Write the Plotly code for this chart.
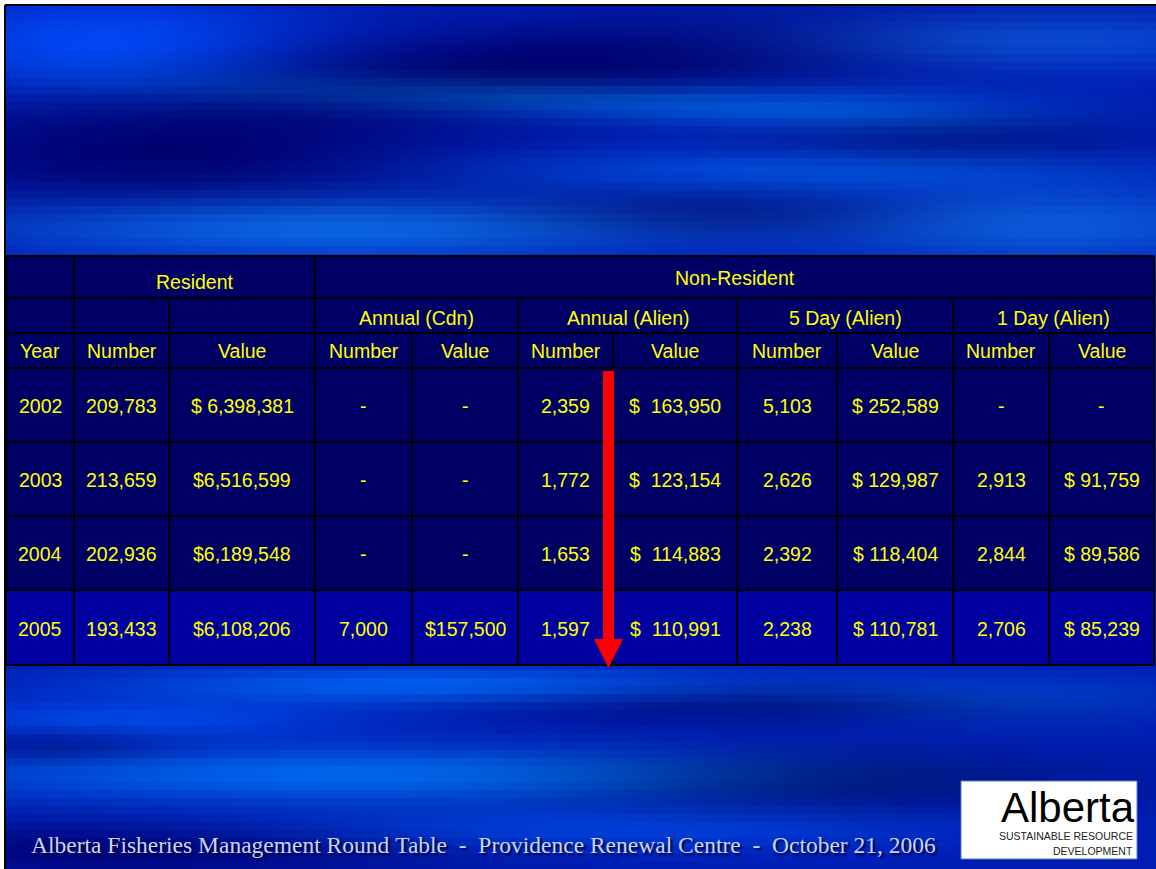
import base64, struct, zlib
import numpy as np
import plotly.graph_objects as go

# ---------------- data ----------------
years = ["2002", "2003", "2004", "2005"]
res_number = ["209,783", "213,659", "202,936", "193,433"]
res_value = ["$ 6,398,381", "$6,516,599", "$6,189,548", "$6,108,206"]
cdn_number = ["-", "-", "-", "7,000"]
cdn_value = ["-", "-", "-", "$157,500"]
alien_number = ["2,359", "1,772", "1,653", "1,597"]
alien_value = ["$  163,950", "$  123,154", "$  114,883", "$  110,991"]
day5_number = ["5,103", "2,626", "2,392", "2,238"]
day5_value = ["$ 252,589", "$ 129,987", "$ 118,404", "$ 110,781"]
day1_number = ["-", "2,913", "2,844", "2,706"]
day1_value = ["-", "$ 91,759", "$ 89,586", "$ 85,239"]

group_labels = ["Resident", "Non-Resident"]
sub_labels = ["Annual (Cdn)", "Annual (Alien)", "5 Day (Alien)", "1 Day (Alien)"]
col_labels = ["Year", "Number", "Value", "Number", "Value", "Number", "Value",
              "Number", "Value", "Number", "Value"]
footer = "Alberta Fisheries Management Round Table  -  Providence Renewal Centre  -  October 21, 2006"

columns = [years, res_number, res_value, cdn_number, cdn_value, alien_number,
           alien_value, day5_number, day5_value, day1_number, day1_value]

# ---------------- layout geometry (pixels) ----------------
W, H = 1156, 869
col_x = [6, 74, 169, 315, 412, 518, 613, 737, 837, 953, 1049, 1154]
row_y = [256, 298, 333, 368, 442, 516, 590, 665]


def Y(py):
    return H - py


def nb(s):
    return s.replace(" ", "\u00a0")


# ---------------- background texture ----------------
def make_background():
    bw, bh = 1150, 863
    blk = 8
    gw, gh = bw // blk + 2, bh // blk + 2
    gx = (np.arange(gw) + 0.5) * blk + 6
    gy = (np.arange(gh) + 0.5) * blk + 6
    X, YY = np.meshgrid(gx, gy)
    img = np.zeros((gh, gw, 3)) + np.array([0, 28, 178], float)
    blobs = [
        (110, 45, 140, 35, 0, (0, 45, 70)),
        (520, 70, 320, 32, -4, (0, -28, -70)),
        (170, 160, 200, 35, 0, (0, -25, -60)),
        (560, 100, 260, 14, 2, (0, 55, 45)),
        (1030, 40, 180, 22, 0, (10, 50, 45)),
        (880, 110, 140, 18, 0, (0, 30, 30)),
        (800, 170, 230, 16, 0, (0, 45, 40)),
        (350, 228, 260, 22, 0, (10, 75, 55)),
        (1050, 225, 160, 28, 0, (10, 60, 40)),
        (700, 215, 160, 18, 0, (0, -22, -50)),
        (950, 135, 140, 22, 0, (0, -15, -45)),
        (420, 685, 220, 14, 0, (0, 65, 60)),
        (820, 705, 220, 14, 0, (0, -22, -55)),
        (130, 720, 160, 14, 0, (0, 40, 50)),
        (380, 775, 320, 20, 0, (0, 75, 60)),
        (820, 780, 200, 22, 0, (0, -22, -65)),
        (120, 850, 220, 20, 0, (0, -25, -55)),
        (1000, 700, 160, 18, 0, (0, 40, 40)),
        (600, 830, 250, 16, 0, (0, 35, 40)),
        (60, 745, 80, 12, 0, (0, -20, -40)),
    ]
    for cx, cy, sx, sy, ang, col in blobs:
        a = np.deg2rad(ang)
        dx, dy = X - cx, YY - cy
        u = dx * np.cos(a) + dy * np.sin(a)
        v = -dx * np.sin(a) + dy * np.cos(a)
        g = np.exp(-0.5 * ((u / sx) ** 2 + (v / sy) ** 2))
        img += g[..., None] * np.array(col, float)
    img = np.clip(img, 0, 255).astype(np.uint8)
    img = np.repeat(np.repeat(img, blk, axis=0), blk, axis=1)[:bh, :bw]
    h, w, _ = img.shape
    raw = b"".join(b"\x00" + img[i].tobytes() for i in range(h))

    def chunk(t, d):
        c = struct.pack(">I", len(d)) + t + d
        return c + struct.pack(">I", zlib.crc32(t + d) & 0xffffffff)

    png = (b"\x89PNG\r\n\x1a\n"
           + chunk(b"IHDR", struct.pack(">IIBBBBB", w, h, 8, 2, 0, 0, 0))
           + chunk(b"IDAT", zlib.compress(raw, 9))
           + chunk(b"IEND", b""))
    return "data:image/png;base64," + base64.b64encode(png).decode()


fig = go.Figure()
fig.add_trace(go.Scatter(x=[0, W], y=[0, H], mode="markers",
                         marker=dict(opacity=0), hoverinfo="skip", showlegend=False))

shapes = []
annotations = []

# slide frame
shapes.append(dict(type="line", x0=5, x1=5, y0=Y(5), y1=Y(869),
                   line=dict(color="black", width=2)))
shapes.append(dict(type="line", x0=5, x1=1156, y0=Y(5), y1=Y(5),
                   line=dict(color="black", width=2)))

# table cell fills
navy = "#000064"
bright = "#00009e"
shapes.append(dict(type="rect", x0=col_x[0], x1=col_x[-1], y0=Y(row_y[0]), y1=Y(row_y[6]),
                   fillcolor=navy, line=dict(width=0)))
shapes.append(dict(type="rect", x0=col_x[0], x1=col_x[-1], y0=Y(row_y[6]), y1=Y(row_y[7]),
                   fillcolor=bright, line=dict(width=0)))

lc = dict(color="black", width=2)
# horizontal grid lines
for ry in row_y:
    shapes.append(dict(type="line", x0=col_x[0], x1=col_x[-1], y0=Y(ry), y1=Y(ry), line=lc))
# outer vertical lines
for cx in (col_x[0], col_x[-1]):
    shapes.append(dict(type="line", x0=cx, x1=cx, y0=Y(row_y[0]), y1=Y(row_y[-1]), line=lc))
# header row 1 verticals
for cx in (col_x[1], col_x[3]):
    shapes.append(dict(type="line", x0=cx, x1=cx, y0=Y(row_y[0]), y1=Y(row_y[1]), line=lc))
# header row 2 verticals
for cx in (col_x[1], col_x[2], col_x[3], col_x[5], col_x[7], col_x[9]):
    shapes.append(dict(type="line", x0=cx, x1=cx, y0=Y(row_y[1]), y1=Y(row_y[2]), line=lc))
# remaining rows: all verticals
for cx in col_x[1:-1]:
    shapes.append(dict(type="line", x0=cx, x1=cx, y0=Y(row_y[2]), y1=Y(row_y[-1]), line=lc))

tfont = dict(family="Liberation Sans, Arial, sans-serif", size=19.5, color="#ffff00")


def centre(i):
    return (col_x[i] + col_x[i + 1]) / 2


# header row 1
annotations.append(dict(x=(col_x[1] + col_x[3]) / 2, y=Y(282), text=group_labels[0],
                        showarrow=False, font=tfont, xanchor="center", yanchor="middle"))
annotations.append(dict(x=(col_x[3] + col_x[-1]) / 2, y=Y(278), text=group_labels[1],
                        showarrow=False, font=tfont, xanchor="center", yanchor="middle"))
# header row 2
for k, lab in enumerate(sub_labels):
    x0 = col_x[3 + 2 * k]
    x1 = col_x[5 + 2 * k]
    annotations.append(dict(x=(x0 + x1) / 2, y=Y(318), text=lab, showarrow=False,
                            font=tfont, xanchor="center", yanchor="middle"))
# header row 3
for i, lab in enumerate(col_labels):
    annotations.append(dict(x=centre(i), y=Y(351), text=lab, showarrow=False,
                            font=tfont, xanchor="center", yanchor="middle"))
# data rows
for r in range(len(years)):
    cy = (row_y[3 + r] + row_y[4 + r]) / 2 + 1
    for i, col in enumerate(columns):
        annotations.append(dict(x=centre(i), y=Y(cy), text=nb(col[r]), showarrow=False,
                                font=tfont, xanchor="center", yanchor="middle"))

# red arrow
shapes.append(dict(type="rect", x0=603, x1=614, y0=Y(371), y1=Y(641),
                   fillcolor="#ff0000", line=dict(width=0)))
shapes.append(dict(type="path",
                   path=f"M 594 {Y(639)} L 623 {Y(639)} L 608.5 {Y(668)} Z",
                   fillcolor="#ff0000", line=dict(width=0)))

# footer text
annotations.append(dict(x=29, y=Y(845), text=nb(footer), showarrow=False,
                        xanchor="left", yanchor="middle",
                        font=dict(family="Liberation Serif, Times New Roman, serif", size=23.5,
                                  color="#c8d4ff", shadow="2px 2px 2px #000033")))

# logo box
shapes.append(dict(type="rect", x0=961, x1=1137, y0=Y(859), y1=Y(781),
                   fillcolor="white", line=dict(color="#5a78c8", width=1)))
annotations.append(dict(x=1137, y=Y(807), text="Alberta", showarrow=False,
                        xanchor="right", yanchor="middle",
                        font=dict(family="Liberation Sans, Arial, sans-serif", size=42,
                                  color="black")))
annotations.append(dict(x=1135, y=Y(836), text="SUSTAINABLE RESOURCE", showarrow=False,
                        xanchor="right", yanchor="middle",
                        font=dict(family="Liberation Sans, Arial, sans-serif", size=10.5,
                                  color="#222222")))
annotations.append(dict(x=1135, y=Y(851), text="DEVELOPMENT", showarrow=False,
                        xanchor="right", yanchor="middle",
                        font=dict(family="Liberation Sans, Arial, sans-serif", size=10.5,
                                  color="#222222")))

fig.update_layout(
    width=W, height=H,
    margin=dict(l=0, r=0, t=0, b=0),
    paper_bgcolor="white", plot_bgcolor="white",
    xaxis=dict(range=[0, W], visible=False, fixedrange=True),
    yaxis=dict(range=[0, H], visible=False, fixedrange=True),
    shapes=shapes,
    annotations=annotations,
    images=[dict(source=make_background(), xref="x", yref="y", x=6, y=Y(6),
                 sizex=1150, sizey=863, sizing="stretch", xanchor="left",
                 yanchor="top", layer="below")],
    showlegend=False,
)

fig.write_html("out.html", config=dict(displayModeBar=False, staticPlot=True),
               post_script="document.body.style.margin='0';")
